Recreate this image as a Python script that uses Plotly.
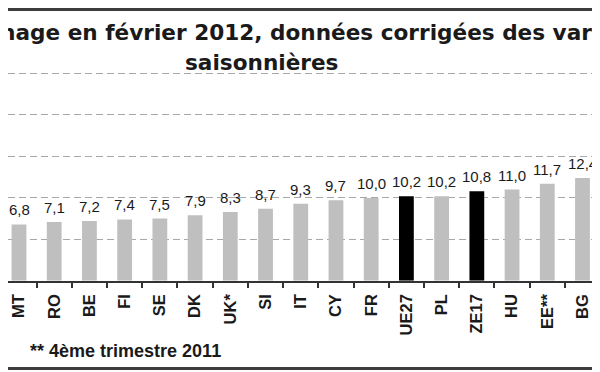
import plotly.graph_objects as go

categories = ["MT", "RO", "BE", "FI", "SE", "DK", "UK*", "SI", "IT", "CY",
              "FR", "UE27", "PL", "ZE17", "HU", "EE**", "BG"]
values = [6.8, 7.1, 7.2, 7.4, 7.5, 7.9, 8.3, 8.7, 9.3, 9.7,
          10.0, 10.2, 10.2, 10.8, 11.0, 11.7, 12.4]
highlight = ["UE27", "ZE17"]
title_line1 = "Taux de chômage en février 2012, données corrigées des variations"
title_line2 = "saisonnières"
footnote = "** 4ème trimestre 2011"

positions = list(range(len(categories)))
labels = [f"{v:.1f}".replace(".", ",") for v in values]
colors = ["#000000" if c in highlight else "#bfbfbf" for c in categories]

W, H = 600, 372
OFF = 8  # page body margin offset
PT, PB = 71 - 4 - OFF, 280 - OFF  # plot top / bottom in figure px
FIRST, LAST = 19.0, 582.5  # screen centres of first / last category
PITCH = (LAST - FIRST) / (len(categories) - 1)
R0 = -(FIRST - OFF) / PITCH
R1 = R0 + W / PITCH


def py(p):
    """reference pixel y -> paper y (paper = whole figure)"""
    return 1 - (p - OFF) / H


def px(p):
    """reference pixel x -> paper x"""
    return (p - OFF) / W


fig = go.Figure()
fig.add_trace(go.Bar(
    x=positions, y=values, marker_color=colors, marker_line_width=0,
    width=0.42, hoverinfo="skip", xaxis="x", yaxis="y"))
# empty trace for the frame subplot (its mirrored axis line draws the top/bottom rules)
fig.add_trace(go.Scatter(x=[None], y=[None], xaxis="x2", yaxis="y2",
                         showlegend=False, hoverinfo="skip"))

annotations = []
for xpos, v, t in zip(positions, values, labels):
    annotations.append(dict(x=xpos, y=v, xref="x", yref="y", text=t, showarrow=False,
                            yanchor="bottom", yshift=4,
                            font=dict(family="Liberation Sans, Arial", size=15, color="#1a1a1a")))

annotations.append(dict(x=px(261.5), y=py(30), xref="paper", yref="paper", text=title_line1,
                        showarrow=False, xanchor="center", yanchor="middle",
                        font=dict(family="DejaVu Sans", size=21.6, color="#1a1a1a", weight="bold")))
annotations.append(dict(x=px(261.5), y=py(60), xref="paper", yref="paper", text=title_line2,
                        showarrow=False, xanchor="center", yanchor="middle",
                        font=dict(family="DejaVu Sans", size=21.6, color="#1a1a1a", weight="bold")))
annotations.append(dict(x=px(28), y=py(351), xref="paper", yref="paper", text=footnote,
                        showarrow=False, xanchor="left", yanchor="middle",
                        font=dict(family="Liberation Sans, Arial", size=18, color="#1a1a1a", weight="bold")))

boundaries = [p - 0.5 for p in positions] + [positions[-1] + 0.5]

fig.update_layout(
    width=W, height=H,
    margin=dict(l=0, r=0, t=0, b=0, pad=0),
    paper_bgcolor="white", plot_bgcolor="rgba(0,0,0,0)",
    showlegend=False,
    annotations=annotations,
    xaxis=dict(type="linear", range=[R0, R1], domain=[0, 1], anchor="y",
               showline=True, linecolor="#333333", linewidth=1.5,
               tickmode="array", tickvals=positions, ticktext=categories,
               ticks="outside", ticklen=5, tickcolor="rgba(0,0,0,0)",
               tickangle=-90, showgrid=False, zeroline=False,
               minor=dict(tickmode="array", tickvals=boundaries, ticks="outside",
                          ticklen=5, tickcolor="#333333", tickwidth=1.5, showgrid=False),
               tickfont=dict(family="Liberation Sans, Arial", size=16.5, color="#1a1a1a", weight="bold")),
    yaxis=dict(range=[0, 25 * (PB - PT) / (PB - PT - 4)], domain=[1 - PB / H, 1 - PT / H],
               dtick=5, showticklabels=False, zeroline=False,
               showgrid=True, gridcolor="#a8a8a8", gridwidth=1.3, griddash="7px,4px"),
    xaxis2=dict(domain=[0, 1], anchor="y2", range=[0, 1], showline=True, mirror=True,
                linecolor="#3c3c3c", linewidth=2.5, showticklabels=False, ticks="",
                showgrid=False, zeroline=False, fixedrange=True),
    yaxis2=dict(domain=[py(367), py(8)], anchor="x2", range=[0, 1], showline=False,
                showticklabels=False, ticks="", showgrid=False, zeroline=False, fixedrange=True),
)

fig.write_html("out.html")
